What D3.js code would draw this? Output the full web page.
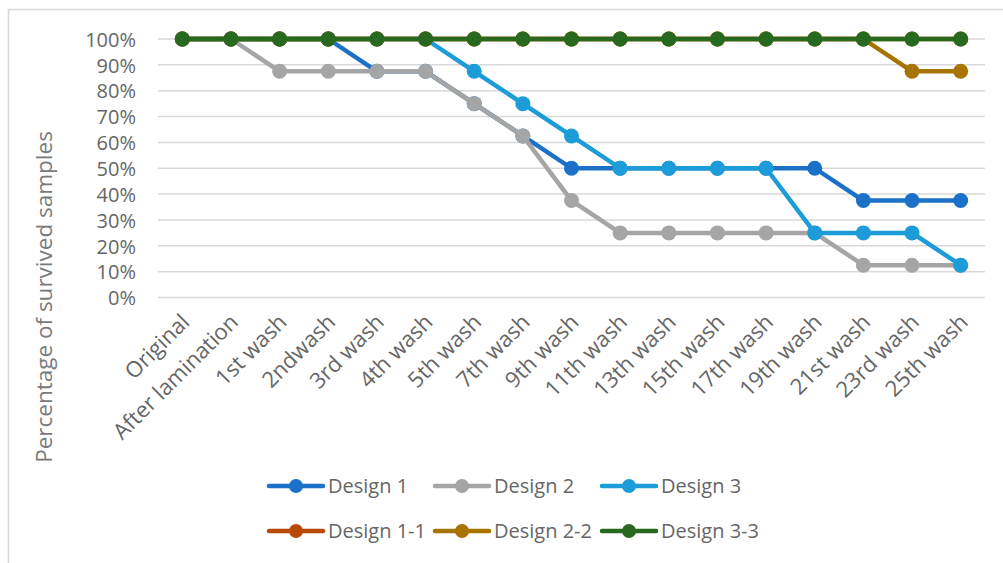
<!DOCTYPE html>
<html>
<head>
<meta charset="utf-8">
<script src="https://cdn.jsdelivr.net/npm/d3@7"></script>
<style>
  html, body { margin: 0; padding: 0; background: #fff; }
  svg { display: block; font-family: "Open Sans", "Noto Sans", sans-serif; }
</style>
</head>
<body>
<svg id="chart" width="1003" height="563"></svg>
<script>
// Wash stages (x categories)
const stages = ["Original", "After lamination", "1st wash", "2ndwash", "3rd wash", "4th wash",
  "5th wash", "7th wash", "9th wash", "11th wash", "13th wash", "15th wash", "17th wash",
  "19th wash", "21st wash", "23rd wash", "25th wash"];

// Share of samples that survived (%) per design
const design1  = [100, 100, 100, 100, 87.5, 87.5, 75, 62.5, 50, 50, 50, 50, 50, 50, 37.5, 37.5, 37.5];
const design2  = [100, 100, 87.5, 87.5, 87.5, 87.5, 75, 62.5, 37.5, 25, 25, 25, 25, 25, 12.5, 12.5, 12.5];
const design3  = [100, 100, 100, 100, 100, 100, 87.5, 75, 62.5, 50, 50, 50, 50, 25, 25, 25, 12.5];
const design11 = [100, 100, 100, 100, 100, 100, 100, 100, 100, 100, 100, 100, 100, 100, 100, 100, 100];
const design22 = [100, 100, 100, 100, 100, 100, 100, 100, 100, 100, 100, 100, 100, 100, 100, 87.5, 87.5];
const design33 = [100, 100, 100, 100, 100, 100, 100, 100, 100, 100, 100, 100, 100, 100, 100, 100, 100];

const seriesNames = ["Design 1", "Design 2", "Design 3", "Design 1-1", "Design 2-2", "Design 3-3"];
const seriesValues = [design1, design2, design3, design11, design22, design33];
const seriesColors = ["#1a71c7", "#a5a5a5", "#1c9cd8", "#b84a07", "#a87400", "#276a1f"];

const yTicks = [0, 10, 20, 30, 40, 50, 60, 70, 80, 90, 100];

const svg = d3.select("#chart");
const textColor = "#666666";

// Chart area border
svg.append("rect")
  .attr("x", 8.5).attr("y", 9.5)
  .attr("width", 1010).attr("height", 570)
  .attr("fill", "none").attr("stroke", "#d9d9d9").attr("stroke-width", 1.5);

const plot = { left: 158, right: 985, top: 39, bottom: 297.5 };

const x = d3.scalePoint()
  .domain(stages)
  .range([plot.left, plot.right])
  .padding(0.5);

const y = d3.scaleLinear()
  .domain([0, 100])
  .range([plot.bottom, plot.top]);

// Horizontal gridlines
svg.append("g")
  .selectAll("line")
  .data(yTicks)
  .join("line")
  .attr("x1", plot.left).attr("x2", plot.right)
  .attr("y1", d => y(d)).attr("y2", d => y(d))
  .attr("stroke", "#d9d9d9").attr("stroke-width", 1.5);

// Y axis labels
const yAxis = svg.append("g")
  .attr("transform", `translate(${plot.left - 22},0)`)
  .call(d3.axisLeft(y).tickValues(yTicks).tickFormat(d => d + "%").tickSize(0).tickPadding(0));
yAxis.select(".domain").remove();
yAxis.selectAll("text")
  .attr("font-size", 20).attr("fill", textColor)
  .attr("font-family", "'Open Sans', sans-serif")
  .attr("dy", "0.36em");

// X axis labels rotated -45deg
const xAxis = svg.append("g")
  .attr("transform", `translate(0,${plot.bottom})`)
  .call(d3.axisBottom(x).tickSize(0).tickPadding(0));
xAxis.select(".domain").remove();
xAxis.selectAll(".tick text")
  .attr("font-size", 22).attr("fill", textColor)
  .attr("font-family", "'Open Sans', sans-serif")
  .attr("text-anchor", "end")
  .attr("dy", null).attr("y", null)
  .attr("transform", "translate(8,26) rotate(-45)");

// Y axis title
svg.append("text")
  .attr("transform", "translate(52,297) rotate(-90)")
  .attr("text-anchor", "middle")
  .attr("font-size", 22.5).attr("fill", "#7a7a7a")
  .text("Percentage of survived samples");

// Series lines and markers
const line = d3.line()
  .x((d, i) => x(stages[i]))
  .y(d => y(d));

seriesValues.forEach((vals, si) => {
  const g = svg.append("g");
  g.append("path")
    .datum(vals)
    .attr("d", line)
    .attr("fill", "none")
    .attr("stroke", seriesColors[si])
    .attr("stroke-width", 4.5)
    .attr("stroke-linejoin", "round");
  g.selectAll("circle")
    .data(vals)
    .join("circle")
    .attr("cx", (d, i) => x(stages[i]))
    .attr("cy", d => y(d))
    .attr("r", 7.5)
    .attr("fill", seriesColors[si]);
});

// Legend: two rows of three
const legendCols = [268, 434, 601];
const legendRows = [486, 531];
const legend = svg.append("g");
seriesNames.forEach((name, i) => {
  const lx = legendCols[i % 3];
  const ly = legendRows[Math.floor(i / 3)];
  const item = legend.append("g").attr("transform", `translate(${lx},${ly})`);
  item.append("line")
    .attr("x1", 1).attr("x2", 55).attr("y1", 0).attr("y2", 0)
    .attr("stroke", seriesColors[i]).attr("stroke-width", 4.5)
    .attr("stroke-linecap", "round");
  item.append("circle")
    .attr("cx", 28).attr("cy", 0).attr("r", 7)
    .attr("fill", seriesColors[i]);
  item.append("text")
    .attr("x", 60).attr("y", 0).attr("dy", "0.36em")
    .attr("font-size", 20).attr("fill", textColor)
    .text(name);
});
</script>
</body>
</html>
